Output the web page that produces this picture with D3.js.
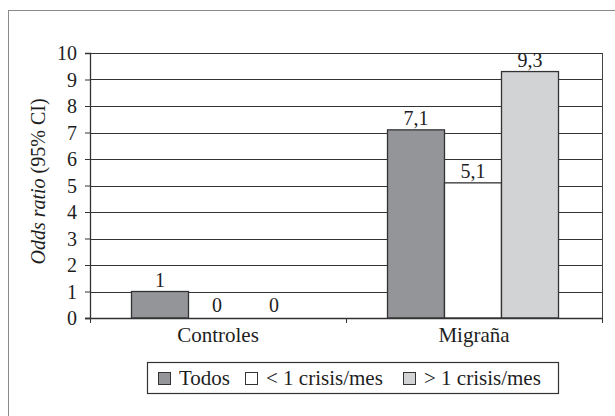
<!DOCTYPE html>
<html>
<head>
<meta charset="utf-8">
<script src="https://cdn.jsdelivr.net/npm/d3@7"></script>
<style>
  body { margin: 0; background: #fff; }
  svg text { font-family: "Liberation Serif", "Times New Roman", serif; fill: #1e1e1e; }
</style>
</head>
<body>
<div id="chart"></div>
<script>
// --- Data ---
const categories = ["Controles", "Migraña"];
const seriesNames = ["Todos", "< 1 crisis/mes", "> 1 crisis/mes"];
const todos = [1, 7.1];
const menosDeUna = [0, 5.1];
const masDeUna = [0, 9.3];
const yTicks = [0, 1, 2, 3, 4, 5, 6, 7, 8, 9, 10];

const seriesColor = ["#939598", "#ffffff", "#d1d3d4"];
const fmt = (v) => String(v).replace(".", ",");

const width = 615, height = 416;
const margin = { top: 53, right: 13, bottom: 98, left: 90 };
const fs = 20;

const svg = d3.select("#chart").append("svg")
  .attr("width", width)
  .attr("height", height);

// outer frame (cut off at right and bottom like the scan)
svg.append("rect")
  .attr("x", 8.5).attr("y", 10.5)
  .attr("width", 620).attr("height", 420)
  .attr("fill", "none")
  .attr("stroke", "#8a8a8a")
  .attr("stroke-width", 1);

const g = svg.append("g").attr("transform", `translate(${margin.left},${margin.top})`);
const innerW = width - margin.left - margin.right;
const innerH = height - margin.top - margin.bottom;

const x0 = d3.scaleBand().domain(categories).range([0, innerW]).paddingInner(0).paddingOuter(0);
const x1 = d3.scaleBand().domain(seriesNames).range([0, x0.bandwidth() * 0.668]);
const groupOffset = (x0.bandwidth() - x1.range()[1]) / 2 - 1;
const y = d3.scaleLinear().domain([0, 10]).range([innerH, 0]);

// gridlines
g.append("g")
  .selectAll("line")
  .data(yTicks.slice(1))
  .join("line")
  .attr("x1", 0).attr("x2", innerW)
  .attr("y1", (d) => Math.round(y(d)) + 0.5)
  .attr("y2", (d) => Math.round(y(d)) + 0.5)
  .attr("stroke", "#333")
  .attr("stroke-width", 1.2);

// right border of plot area
g.append("line")
  .attr("x1", innerW + 0.5).attr("x2", innerW + 0.5)
  .attr("y1", 0).attr("y2", innerH + 5)
  .attr("stroke", "#444");

// bars
const rows = categories.map((c, i) => ({
  cat: c,
  vals: [todos[i], menosDeUna[i], masDeUna[i]],
}));

const groups = g.selectAll(".grp")
  .data(rows)
  .join("g")
  .attr("class", "grp")
  .attr("transform", (d) => `translate(${x0(d.cat) + groupOffset},0)`);

groups.selectAll("rect")
  .data((d) => d.vals.map((v, j) => ({ v, name: seriesNames[j], j })))
  .join("rect")
  .attr("x", (d) => x1(d.name))
  .attr("width", x1.bandwidth())
  .attr("y", (d) => y(d.v))
  .attr("height", (d) => innerH - y(d.v))
  .attr("fill", (d) => seriesColor[d.j])
  .attr("stroke", "#333")
  .attr("stroke-width", (d) => (d.v > 0 ? 1.3 : 0));

groups.selectAll(".val")
  .data((d) => d.vals.map((v, j) => ({ v, name: seriesNames[j] })))
  .join("text")
  .attr("class", "val")
  .attr("x", (d) => x1(d.name) + x1.bandwidth() / 2)
  .attr("y", (d) => y(d.v) - (d.v === 0 ? 6 : 5))
  .attr("text-anchor", "middle")
  .attr("font-size", fs)
  .text((d) => fmt(d.v));

// y axis
const yAxis = g.append("g")
  .call(d3.axisLeft(y).tickValues(yTicks).tickSize(5).tickPadding(8));
yAxis.select(".domain").attr("stroke", "#333").attr("stroke-width", 1.3);
yAxis.selectAll(".tick line").attr("stroke", "#333");
yAxis.selectAll("text").attr("font-size", fs).attr("fill", "#1e1e1e").attr("dy", "0.34em");

// x axis: ticks at category boundaries
const xAxis = g.append("g").attr("transform", `translate(0,${innerH})`);
xAxis.append("line")
  .attr("x1", -5).attr("x2", innerW)
  .attr("y1", 0.5).attr("y2", 0.5)
  .attr("stroke", "#333").attr("stroke-width", 1.3);
xAxis.selectAll(".xt")
  .data([0, ...categories.map((c) => x0(c) + x0.bandwidth())])
  .join("line")
  .attr("class", "xt")
  .attr("x1", (d) => d + 0.5).attr("x2", (d) => d + 0.5)
  .attr("y1", 0).attr("y2", 5)
  .attr("stroke", "#333");
xAxis.selectAll(".xl")
  .data(categories)
  .join("text")
  .attr("class", "xl")
  .attr("x", (d) => x0(d) + x0.bandwidth() / 2)
  .attr("y", 24)
  .attr("text-anchor", "middle")
  .attr("font-size", 21)
  .text((d) => d);

// y axis title
const yTitle = svg.append("text")
  .attr("transform", `translate(38,${margin.top + innerH / 2 - 4}) rotate(-90)`)
  .attr("text-anchor", "middle")
  .attr("dy", "0.35em")
  .attr("font-size", fs);
yTitle.append("tspan").attr("font-style", "italic").text("Odds ratio");
yTitle.append("tspan").text(" (95% CI)");

// legend
const legend = svg.append("g").attr("transform", "translate(147,362)");
legend.append("rect")
  .attr("x", 0.5).attr("y", 0.5)
  .attr("width", 411).attr("height", 31)
  .attr("fill", "#fff")
  .attr("stroke", "#333").attr("stroke-width", 1.2);
const legendX = [11, 98, 256];
const items = legend.selectAll(".li")
  .data(seriesNames)
  .join("g")
  .attr("class", "li")
  .attr("transform", (d, i) => `translate(${legendX[i]},0)`);
items.append("rect")
  .attr("x", 0.5).attr("y", 10.5)
  .attr("width", 12).attr("height", 12)
  .attr("fill", (d, i) => seriesColor[i])
  .attr("stroke", "#333");
items.append("text")
  .attr("x", 21).attr("y", 23)
  .attr("font-size", 21)
  .text((d) => d);
</script>
</body>
</html>
